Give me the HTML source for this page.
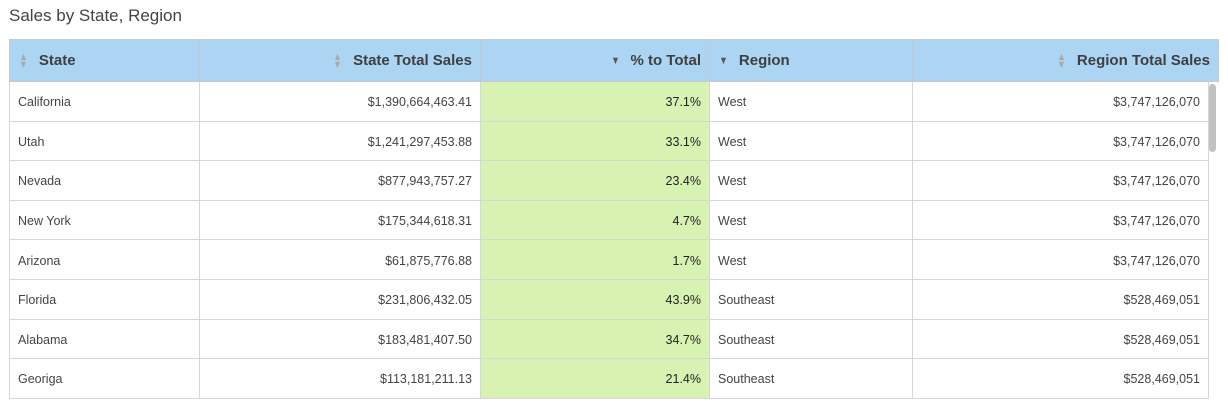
<!DOCTYPE html>
<html><head><meta charset="utf-8"><style>
body{margin:0;width:1228px;height:402px;overflow:hidden;background:#fff;font-family:"Liberation Sans",sans-serif;position:relative}
.t{position:absolute;left:9px;top:6px;font-size:17px;color:#444}
.h,.c{position:absolute;box-sizing:border-box;display:flex;align-items:center;white-space:nowrap}
.h{top:39px;height:43px;background:#acd5f3;border:1px solid #c9c9c9;border-left:none;font-weight:bold;font-size:15px;color:#3f3f3f;padding:0 8px}
.c{border-right:1px solid #d6d6d6;border-bottom:1px solid #d6d6d6;font-size:12.5px;color:#444;padding:2px 8px 0}
.r{justify-content:flex-end}
.s{font-size:11px;color:#aaa;margin-right:10px;line-height:8px;display:inline-block;transform:scaleX(0.8)}
.d{font-size:11px;color:#555;margin-right:10px;transform:scaleX(0.8)}
</style></head><body>
<div class="t">Sales by State, Region</div>
<div id="tbl"></div>
<div style="position:absolute;left:1209px;top:84px;width:7px;height:68px;background:#c1c1c1;border-radius:4px"></div>
<script>
const states=["California","Utah","Nevada","New York","Arizona","Florida","Alabama","Georiga"];
const stateSales=["$1,390,664,463.41","$1,241,297,453.88","$877,943,757.27","$175,344,618.31","$61,875,776.88","$231,806,432.05","$183,481,407.50","$113,181,211.13"];
const pct=["37.1%","33.1%","23.4%","4.7%","1.7%","43.9%","34.7%","21.4%"];
const regions=["West","West","West","West","West","Southeast","Southeast","Southeast"];
const regionSales=["$3,747,126,070","$3,747,126,070","$3,747,126,070","$3,747,126,070","$3,747,126,070","$528,469,051","$528,469,051","$528,469,051"];
const cols=[[9,200],[200,481],[481,710],[710,913],[913,1219]];
const heads=[["State",0,"s"],["State Total Sales",1,"s"],["% to Total",1,"d"],["Region",0,"d"],["Region Total Sales",1,"s"]];
const tbl=document.getElementById('tbl');
heads.forEach((h,i)=>{
 const d=document.createElement('div');
 
 
 d.className='h'+(h[1]?' r':'');
 d.style.left=cols[i][0]+'px';d.style.width=(cols[i][1]-cols[i][0])+'px';
 if(i==0){d.style.borderLeft='1px solid #c9c9c9';}
 d.innerHTML=(h[2]=='s'?'<span class="s">▲<br>▼</span>':'<span class="d">▼</span>')+h[0];
 tbl.appendChild(d);
});
const data=[states,stateSales,pct,regions,regionSales];
const rh=39.6;
states.forEach((s,r)=>{
 data.forEach((arr,i)=>{
  const d=document.createElement('div');
  
  
  d.className='c'+((i==1||i==2||i==4)?' r':'');
  d.style.left=cols[i][0]+'px';
  d.style.width=(cols[i][1]-cols[i][0]-(i==4?10:0))+'px';
  d.style.top=(82+r*rh)+'px';d.style.height=rh+'px';
  if(i==0)d.style.borderLeft='1px solid #d6d6d6';
  if(i==2){d.style.background='#d8f2b2';d.style.color='#222';}
  d.textContent=arr[r];
  tbl.appendChild(d);
 });
});
</script>
</body></html>
